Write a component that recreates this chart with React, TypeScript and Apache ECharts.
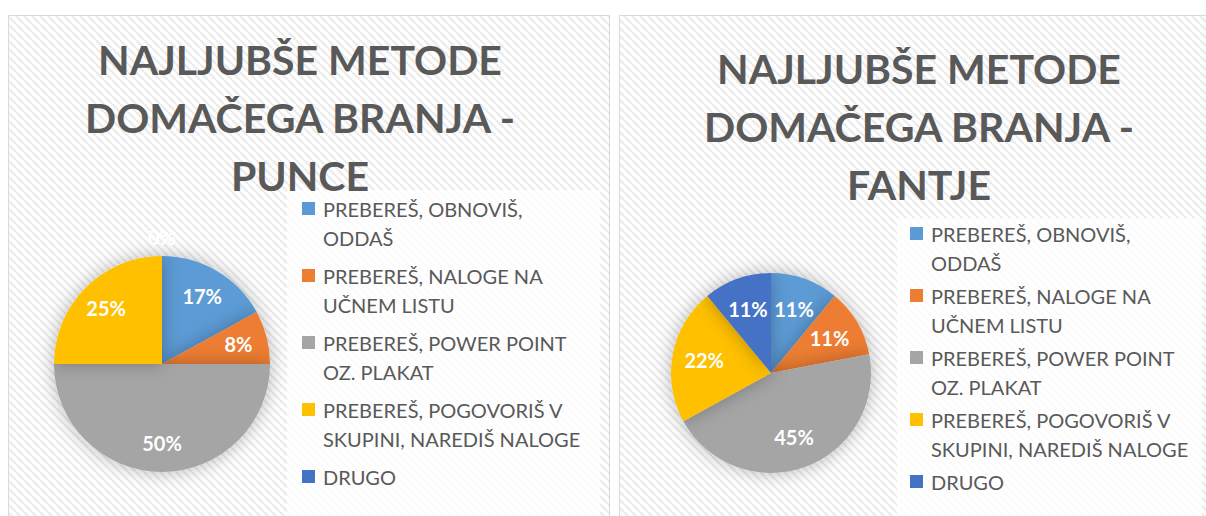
import React, { useEffect, useRef } from "react";
import * as echarts from "echarts";

const categories = [
  "PREBEREŠ, OBNOVIŠ, ODDAŠ",
  "PREBEREŠ, NALOGE NA UČNEM LISTU",
  "PREBEREŠ, POWER POINT OZ. PLAKAT",
  "PREBEREŠ, POGOVORIŠ V SKUPINI, NAREDIŠ NALOGE",
  "DRUGO",
];
const legendLabels = [
  "PREBEREŠ, OBNOVIŠ,\nODDAŠ",
  "PREBEREŠ, NALOGE NA\nUČNEM LISTU",
  "PREBEREŠ, POWER POINT\nOZ. PLAKAT",
  "PREBEREŠ, POGOVORIŠ V\nSKUPINI, NAREDIŠ NALOGE",
  "DRUGO\n",
];
const punceValues = [17, 8, 50, 25, 0];
const fantjeValues = [11, 11, 45, 22, 11];
const colors = ["#5B9BD5", "#ED7D31", "#A5A5A5", "#FFC000", "#4472C4"];
const titles = [
  "NAJLJUBŠE METODE\nDOMAČEGA BRANJA -\nPUNCE",
  "NAJLJUBŠE METODE\nDOMAČEGA BRANJA -\nFANTJE",
];

const FONT = "Lato, 'Open Sans', sans-serif";
const TEXT = "#595959";

function makePattern() {
  const s = 8;
  const c = document.createElement("canvas");
  c.width = s;
  c.height = s;
  const ctx = c.getContext("2d")!;
  ctx.fillStyle = "#ffffff";
  ctx.fillRect(0, 0, s, s);
  ctx.strokeStyle = "#ececec";
  ctx.lineWidth = 2.4;
  ctx.beginPath();
  ctx.moveTo(0, 0);
  ctx.lineTo(s, s);
  ctx.moveTo(-s, 0);
  ctx.lineTo(0, s);
  ctx.moveTo(s, 0);
  ctx.lineTo(2 * s, s);
  ctx.stroke();
  return c;
}

function pieData(values: number[]) {
  return categories.map((name, i) => ({
    name,
    value: values[i],
    itemStyle: { color: colors[i] },
  }));
}

function labelData(values: number[]) {
  return categories.map((name, i) => {
    const item: any = { name, value: values[i] };
    if (values[i] === 0) {
      item.label = { position: "outside", distanceToLabelLine: 0 };
      item.labelLine = { show: false, length: 19, length2: -14 };
    }
    return item;
  });
}

function legendOf(left: number, top: number, gap: number) {
  return {
    orient: "vertical",
    left,
    top,
    height: 470,
    padding: 0,
    itemWidth: 13,
    itemHeight: 13,
    itemGap: gap,
    icon: "rect",
    data: categories,
    selectedMode: false,
    formatter: (n: string) => "\n" + legendLabels[categories.indexOf(n)],
    textStyle: {
      fontFamily: FONT,
      fontSize: 20,
      lineHeight: 29,
      color: TEXT,
      padding: [0, 0, 0, 3],
      backgroundColor: "rgba(0,0,0,0)",
    },
  };
}

function labelSeries(center: number[], r0: number, r: number, values: number[]) {
  return {
    type: "pie",
    center,
    radius: [r0, r],
    startAngle: 90,
    silent: true,
    avoidLabelOverlap: false,
    itemStyle: { color: "rgba(0,0,0,0)" },
    label: {
      show: true,
      position: "inside",
      formatter: "{c}%",
      color: "#ffffff",
      fontFamily: FONT,
      fontWeight: "bold",
      fontSize: 20,
    },
    labelLine: { show: false },
    data: labelData(values),
    z: 5,
  };
}

function pieSeries(center: number[], r: number, values: number[]) {
  return {
    type: "pie",
    center,
    radius: [0, r],
    startAngle: 90,
    avoidLabelOverlap: false,
    label: { show: false },
    labelLine: { show: false },
    itemStyle: {
      shadowBlur: 18,
      shadowColor: "rgba(0,0,0,0.28)",
    },
    data: pieData(values),
  };
}

export default function App() {
  const ref = useRef<HTMLDivElement>(null);
  useEffect(() => {
    if (!ref.current) return;
    const chart = echarts.init(ref.current, undefined, { renderer: "svg" });
    const pattern = { image: makePattern(), repeat: "repeat" };
    const titleStyle = { fontFamily: FONT, fontWeight: "bold", fontSize: 41, lineHeight: 58, color: TEXT };
    chart.setOption({
      animation: false,
      backgroundColor: "#ffffff",
      title: [
        { text: titles[0], left: 300, top: 30, padding: 0, textAlign: "center", textStyle: titleStyle },
        { text: titles[1], left: 919, top: 39, padding: 0, textAlign: "center", textStyle: titleStyle },
      ],
      legend: [legendOf(302, 165, -20), legendOf(910, 190, -25)],
      graphic: [
        {
          type: "rect",
          z: -10,
          shape: { x: 8.5, y: 15.5, width: 601, height: 520 },
          style: { fill: pattern as any, stroke: "#d9d9d9", lineWidth: 1 },
        },
        {
          type: "rect",
          z: -10,
          shape: { x: 619.5, y: 15.5, width: 600, height: 520 },
          style: { fill: pattern as any, stroke: "#d9d9d9", lineWidth: 1 },
        },
        {
          type: "rect",
          z: -9,
          shape: { x: 287, y: 190, width: 313, height: 330 },
          style: { fill: "rgba(255,255,255,0.8)" },
        },
        {
          type: "rect",
          z: -9,
          shape: { x: 897, y: 218, width: 305, height: 300 },
          style: { fill: "rgba(255,255,255,0.8)" },
        },
      ],
      series: [
        pieSeries([162, 364], 108, punceValues),
        pieSeries([771, 373], 100, fantjeValues),
        labelSeries([162, 364], 44, 108, punceValues),
        labelSeries([771, 373], 30, 100, fantjeValues),
      ],
    });
    return () => chart.dispose();
  }, []);
  return (
    <div
      ref={ref}
      style={{ position: "fixed", left: 0, top: 0, width: 1206, height: 516 }}
    />
  );
}
